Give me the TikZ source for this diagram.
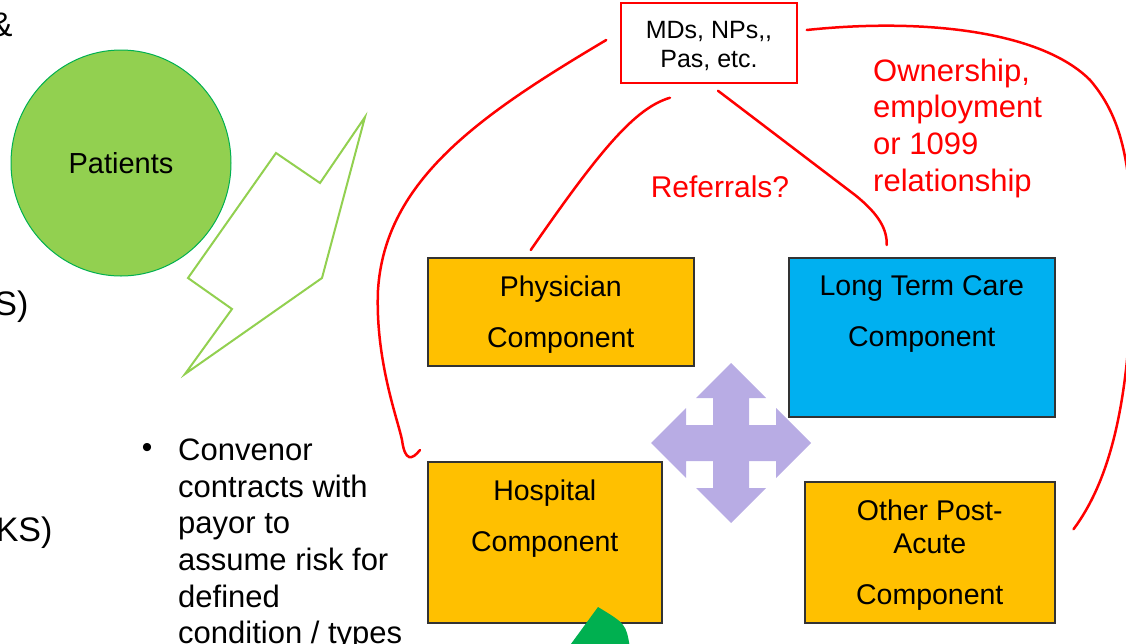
\documentclass[tikz,border=0pt]{standalone}
\usepackage{fontspec}
\setmainfont{Liberation Sans}
\usetikzlibrary{shapes.geometric,calc}
\definecolor{compOrange}{RGB}{255,192,0}
\definecolor{ltcBlue}{RGB}{0,176,240}
\definecolor{patGreen}{RGB}{146,208,80}
\definecolor{darkGreen}{RGB}{0,176,80}
\definecolor{moveLav}{RGB}{184,172,228}
\definecolor{relRed}{RGB}{255,0,0}
\begin{document}
\begin{tikzpicture}[x=1pt,y=-1pt,
  comp/.style={draw=black!80,line width=1.5pt,rectangle,inner sep=0pt,anchor=north west},
  lbl/.style={align=center,inner sep=0pt,font=\fontsize{28.5}{51}\selectfont},
  edge text/.style={anchor=base east,font=\fontsize{34}{40}\selectfont},
  rel/.style={draw=relRed,line width=2.5pt,line cap=round}]
\useasboundingbox (0,0) rectangle (1126,643);
\clip (0,0) rectangle (1126,643);

% text cut off at the left edge
\node[edge text] (amp) at (16,36) {\&};
\node[edge text] (sTail) at (32,315) {S)};
\node[edge text] (ksTail) at (56,541) {KS)};

% patients and the lightning outline
\node[ellipse,draw=darkGreen,line width=1pt,fill=patGreen,minimum width=220pt,minimum height=226pt,
  font=\fontsize{29}{34}\selectfont] (patients) at (121,163) {Patients};
\draw[patGreen,line width=2pt] (365,117) -- (320,183) -- (276,153) -- (188,278) -- (232,309)
  -- (185,374) -- (322,278) -- cycle;

% bullet text
\node[font=\fontsize{30}{36}\selectfont] (dot) at (147,450) {•};
\node[anchor=north west,align=left,inner sep=0pt,font=\fontsize{31}{36.7}\selectfont] (convenor)
  at (178,438.5) {Convenor\\contracts with\\payor to\\assume risk for\\defined\\condition / types};

% providers
\node[draw=relRed,line width=1.5pt,minimum width=176pt,minimum height=80pt] (md) at (709,43) {};
\node[align=center,inner sep=0pt,font=\fontsize{25}{29}\selectfont] (mdTxt) at ($(md.center)+(0,3)$)
  {MDs, NPs,{},\\Pas, etc.};

% components
\node[comp,fill=compOrange,minimum width=266pt,minimum height=108pt] (phys) at (427,257) {};
\node[comp,fill=ltcBlue,minimum width=266pt,minimum height=159pt] (ltc) at (788,257) {};
\node[comp,fill=compOrange,minimum width=234pt,minimum height=161pt] (hosp) at (427,461) {};
\node[comp,fill=compOrange,minimum width=250pt,minimum height=141pt] (opa) at (804,481) {};
\node[lbl] (physTxt) at ($(phys.north)+(0,57.3)$) {Physician\\Component};
\node[lbl] (ltcTxt) at ($(ltc.north)+(0,57.3)$) {Long Term Care\\Component};
\node[lbl] (hospTxt) at ($(hosp.north)+(0,57.3)$) {Hospital\\Component};
\node[lbl,font=\fontsize{28.5}{33}\selectfont] (opaTxt) at ($(opa.north)+(0,73.8)$) {Other Post-\\Acute\\[18pt]Component};

% four way arrow
\coordinate (hub) at (731,443);
\foreach \r in {0,90,180,270}
  \fill[moveLav,shift={(hub)},rotate=\r] (-18,-18) -- (45,-18) -- (45,-35) -- (80,0)
    -- (45,35) -- (45,18) -- (-18,18) -- cycle;

% green shape at the bottom
\fill[darkGreen] (598,607) -- (568,648) -- (630,648) .. controls (626,624) .. (598,607) -- cycle;

% relationships
\draw[rel] ($(md.west)+(-14,-3)$) .. controls (480,115) and (385,180) .. (378,290)
  .. controls (375,360) and (398,420) .. (402,440)
  .. controls (405,462) and (412,460) .. ($(hosp.north west)+(-7,-11)$);
\draw[rel] ($(md.south)+(-39,14)$) .. controls (635,108) and (600,150) .. ($(phys.north)+(-30,-7)$);
\draw[rel] ($(md.south)+(9,7)$) -- (855,195) .. controls (880,215) and (887,230) .. ($(ltc.north)+(-35,-12)$);
\draw[rel] ($(md.east)+(9,-13)$) .. controls (920,18) and (1040,30) .. (1090,80)
  .. controls (1120,115) and (1132,160) .. (1132,250)
  .. controls (1132,400) and (1110,480) .. ($(opa.east)+(18,-23)$);

\node[text=relRed,inner sep=0pt,font=\fontsize{30}{36}\selectfont] (referrals) at (720,187) {Referrals?};
\node[text=relRed,anchor=north west,align=left,inner sep=0pt,font=\fontsize{31}{36.7}\selectfont]
  (ownership) at (873,58.5) {Ownership,\\employment\\or 1099\\relationship};
\end{tikzpicture}
\end{document}
